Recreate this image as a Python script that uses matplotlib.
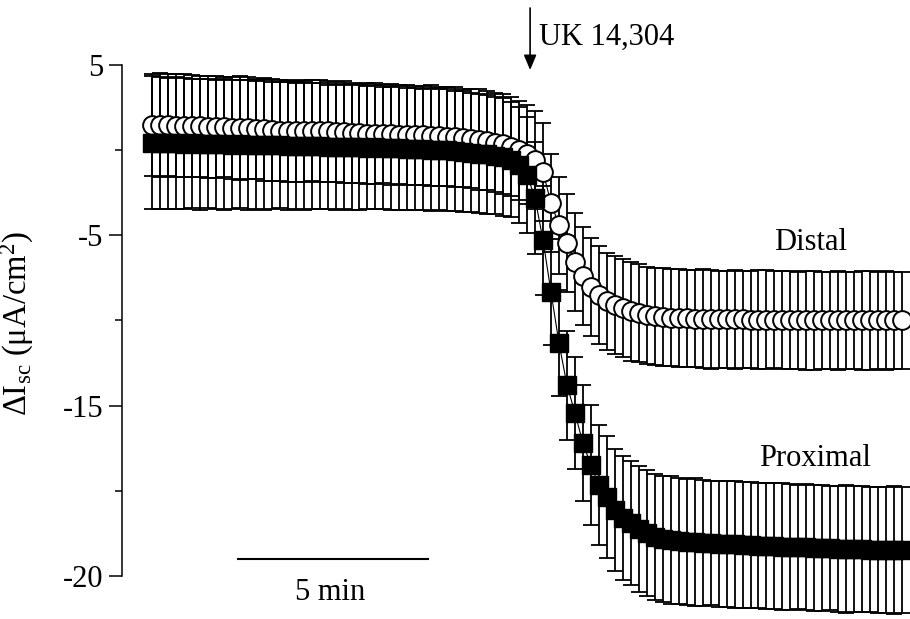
import numpy as np
import matplotlib
matplotlib.use('Agg')
import matplotlib.pyplot as plt

plt.rcParams['font.family'] = ['Liberation Serif', 'DejaVu Serif']
plt.rcParams['mathtext.fontset'] = 'custom'
plt.rcParams['mathtext.rm'] = 'Liberation Serif'
plt.rcParams['mathtext.it'] = 'Liberation Serif:italic'

# sampling interval (minutes)
dt_min = 0.21

distal_mean = [
    1.50, 1.48, 1.48, 1.45, 1.45, 1.42, 1.40, 1.38, 1.36, 1.35,
    1.32, 1.30, 1.28, 1.25, 1.22, 1.18, 1.15, 1.12, 1.10, 1.12,
    1.15, 1.12, 1.10, 1.08, 1.05, 1.02, 1.00, 0.98, 0.97, 0.95,
    0.93, 0.92, 0.90, 0.88, 0.87, 0.85, 0.82, 0.80, 0.76, 0.72,
    0.68, 0.62, 0.55, 0.45, 0.35, 0.20, 0.00,
    -0.25, -0.58, -1.28, -3.10, -4.40, -5.45, -6.57, -7.39, -8.04,
    -8.50, -8.86, -9.09, -9.27, -9.45, -9.56, -9.68, -9.75, -9.80,
    -9.84, -9.86, -9.88, -9.90, -9.90, -9.92, -9.92, -9.93, -9.94, -9.94,
    -9.95, -9.95, -9.96, -9.96, -9.97, -9.97, -9.98, -9.98, -9.98, -9.99,
    -9.99, -10.0, -10.0, -10.0, -10.0, -10.0, -10.0, -10.0, -10.0, -10.0,
]
distal_err = [
    3.0, 3.05, 3.0, 3.0, 3.05, 3.0, 2.95, 3.0, 3.0, 2.95,
    3.0, 3.05, 3.0, 2.95, 3.0, 3.0, 2.95, 3.0, 2.95, 3.0,
    2.95, 3.0, 2.95, 2.95, 3.0, 2.95, 2.9, 2.95, 2.95, 2.9,
    2.95, 2.9, 2.95, 2.9, 2.9, 2.95, 2.9, 2.9, 2.95, 2.9,
    2.9, 2.95, 2.9, 2.9, 2.95, 2.9, 2.9,
    2.9, 2.9, 2.85, 2.85, 2.85, 2.85, 2.9, 2.9, 2.9,
    2.9, 2.85, 2.85, 2.9, 2.9, 2.9, 2.85, 2.85, 2.9,
    2.85, 2.9, 2.85, 2.85, 2.9, 2.9, 2.85, 2.85, 2.9, 2.85,
    2.85, 2.9, 2.9, 2.85, 2.85, 2.9, 2.85, 2.9, 2.9, 2.85,
    2.85, 2.9, 2.85, 2.85, 2.9, 2.9, 2.85, 2.9, 2.85, 2.85,
]
proximal_mean = [
    0.45, 0.42, 0.40, 0.42, 0.38, 0.40, 0.36, 0.38, 0.35, 0.36,
    0.33, 0.35, 0.30, 0.32, 0.30, 0.28, 0.30, 0.26, 0.27, 0.25,
    0.22, 0.24, 0.20, 0.21, 0.18, 0.20, 0.16, 0.15, 0.17, 0.12,
    0.10, 0.12, 0.08, 0.06, 0.05, 0.03, 0.02, 0.00, -0.05, -0.10,
    -0.15, -0.20, -0.25, -0.32, -0.40, -0.55, -0.85,
    -1.46, -2.81, -5.28, -8.33, -11.32, -13.79, -15.43, -17.20, -18.49,
    -19.66, -20.37, -21.13, -21.60, -21.90, -22.25, -22.48, -22.72, -22.83,
    -22.90, -22.95, -22.98, -23.02, -23.05, -23.08, -23.10, -23.12, -23.15, -23.18,
    -23.20, -23.22, -23.25, -23.26, -23.28, -23.30, -23.31, -23.33, -23.35, -23.36,
    -23.38, -23.40, -23.41, -23.42, -23.44, -23.45, -23.46, -23.47, -23.48, -23.48,
]
proximal_err = [
    3.9, 3.9, 3.85, 3.9, 3.85, 3.8, 3.85, 3.8, 3.8, 3.85,
    3.8, 3.75, 3.8, 3.75, 3.8, 3.75, 3.7, 3.75, 3.7, 3.75,
    3.7, 3.7, 3.65, 3.7, 3.65, 3.7, 3.65, 3.6, 3.65, 3.6,
    3.6, 3.65, 3.6, 3.6, 3.55, 3.6, 3.55, 3.6, 3.55, 3.55,
    3.5, 3.5, 3.5, 3.45, 3.45, 3.4, 3.4,
    3.4, 3.3, 3.2, 3.1, 3.1, 3.2, 3.3, 3.4, 3.5,
    3.5, 3.6, 3.6, 3.65, 3.65, 3.7, 3.7, 3.7, 3.7,
    3.75, 3.7, 3.7, 3.75, 3.7, 3.65, 3.7, 3.7, 3.75, 3.7,
    3.7, 3.65, 3.7, 3.7, 3.75, 3.7, 3.65, 3.7, 3.7, 3.7,
    3.65, 3.7, 3.75, 3.7, 3.7, 3.65, 3.7, 3.7, 3.75, 3.7,
]

ytick_values = [5, -5, -15, -25]
ytick_labels = ['5', '-5', '-15', '-20']
yminor_values = [0, -10, -20]

n = len(distal_mean)
time_min = np.arange(n) * dt_min

fig = plt.figure(figsize=(9.1, 6.19), dpi=100)
ax = fig.add_axes([122 / 910, 0, 788 / 910, 1])
ax.set_xlim(-30 / 38, 758 / 38)
ax.set_ylim(-27.53, 8.82)

# error bars (behind markers)
ax.errorbar(time_min, distal_mean, yerr=distal_err, fmt='none', ecolor='black',
            elinewidth=1.3, capsize=6, capthick=1.3, zorder=2)
ax.errorbar(time_min, proximal_mean, yerr=proximal_err, fmt='none', ecolor='black',
            elinewidth=1.3, capsize=6, capthick=1.3, zorder=2)

ax.plot(time_min, distal_mean, color='black', lw=0.8, marker='o', ms=13.5,
        mfc='white', mec='black', mew=1.4, zorder=3)
ax.plot(time_min, proximal_mean, color='black', lw=0.8, marker='s', ms=12.5,
        mfc='black', mec='black', mew=1.0, zorder=4)

# axes styling
for side in ['top', 'right', 'bottom']:
    ax.spines[side].set_visible(False)
ax.spines['left'].set_bounds(-25, 5)
ax.spines['left'].set_linewidth(1.1)
ax.set_xticks([])
ax.set_yticks(ytick_values)
ax.set_yticklabels(ytick_labels)
ax.set_yticks(yminor_values, minor=True)
ax.tick_params(axis='y', which='major', length=9.5, width=1.1, pad=4,
               labelsize=22, direction='out')
ax.tick_params(axis='y', which='minor', length=5, width=1.1, direction='out')

ax.set_ylabel('ΔI$_{\\mathrm{sc}}$ (μA/cm$^{2}$)', fontsize=23.5)
ax.yaxis.set_label_coords(-0.109, 0.478)

# drug addition arrow
ax.annotate('', xy=(9.95, 4.71), xytext=(9.95, 8.35),
            arrowprops=dict(arrowstyle='-|>,head_length=0.9,head_width=0.38',
                            color='black', lw=1.2, shrinkA=0, shrinkB=0))
ax.text(10.18, 6.17, 'UK 14,304', fontsize=22, ha='left', va='baseline')

ax.text(17.34, -5.86, 'Distal', fontsize=22, ha='center', va='baseline')
ax.text(17.45, -18.55, 'Proximal', fontsize=22, ha='center', va='baseline')

# time scale bar
ax.plot([2.26, 7.26], [-24.0, -24.0], color='black', lw=1.5)
ax.text(4.68, -26.41, '5 min', fontsize=22, ha='center', va='baseline')

fig.savefig('out.png', dpi=100)
